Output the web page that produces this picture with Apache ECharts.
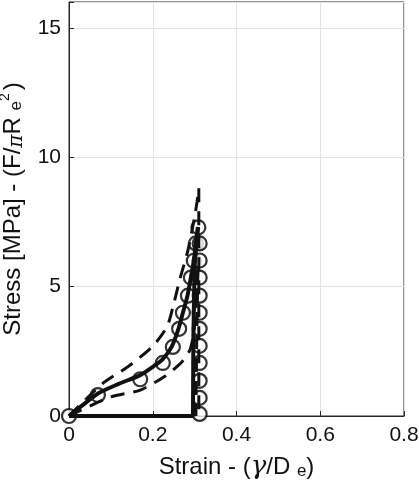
<!DOCTYPE html>
<html>
<head>
<meta charset="utf-8">
<script src="https://cdn.jsdelivr.net/npm/echarts@6/dist/echarts.min.js"></script>
<style>
  html, body { margin: 0; padding: 0; background: #fff; }
  #chart { width: 419px; height: 488px; }
</style>
</head>
<body>
<div id="chart"></div>
<script>
// mean curve: loading branch
const meanLoadStrain = [0, 0.035, 0.07, 0.12, 0.17, 0.2, 0.224, 0.245, 0.26, 0.272, 0.283, 0.291, 0.298, 0.303, 0.308];
const meanLoadStress = [0, 0.45, 0.88, 1.25, 1.58, 1.9, 2.2, 2.67, 3.3, 3.99, 4.65, 5.35, 6.0, 6.67, 7.3];
// mean curve: unloading branch and return along zero stress
const meanUnloadStrain = [0.308, 0.3, 0.297, 0.296, 0.2, 0.1, 0];
const meanUnloadStress = [7.3, 5.8, 3.0, 0, 0, 0, 0];

// upper bound (dashed)
const upperStrain = [0, 0.08, 0.14, 0.2, 0.234, 0.248, 0.265, 0.284, 0.3, 0.306, 0.31];
const upperStress = [0, 1.25, 1.9, 2.7, 3.45, 4.2, 5.3, 6.4, 7.7, 8.3, 8.8];
const upperDownStrain = [0.31, 0.31, 0.31];
const upperDownStress = [8.8, 4.0, 0];

// lower bound (dashed)
const lowerStrain = [0, 0.1, 0.17, 0.23, 0.27, 0.29, 0.3, 0.305, 0.308];
const lowerStress = [0, 0.74, 1.0, 1.55, 2.1, 2.6, 3.5, 4.6, 5.8];
const lowerDownStrain = [0.308, 0.305, 0.303];
const lowerDownStress = [5.8, 3.0, 0];

// circle markers
const markStrain = [0, 0.069, 0.17, 0.224, 0.248, 0.263, 0.272, 0.284, 0.291, 0.298, 0.303, 0.309,
                    0.312, 0.312, 0.312, 0.312, 0.312, 0.312, 0.312, 0.312, 0.312, 0.312, 0.312];
const markStress = [0, 0.81, 1.42, 2.05, 2.67, 3.37, 3.99, 4.65, 5.35, 6.0, 6.67, 7.29,
                    6.67, 6.01, 5.35, 4.65, 3.99, 3.37, 2.71, 2.05, 1.36, 0.70, 0.08];

const xTicks = [0, 0.2, 0.4, 0.6, 0.8];
const yTicks = [0, 5, 10, 15];

const zip = (a, b) => a.map((v, i) => [v, b[i]]);
const ink = '#111';
const font = 'Liberation Sans, Arial, sans-serif';
const dashed = { color: ink, width: 3, type: [14, 9] };

const myChart = echarts.init(document.getElementById('chart'));
myChart.setOption({
    animation: false,
    grid: {
        left: 69, right: 15, top: 2, bottom: 72,
        outerBoundsMode: 'none',
        containLabel: false,
        show: true,
        borderColor: '#262626',
        borderWidth: 1
    },
    xAxis: {
        type: 'value',
        min: 0, max: 0.8, interval: 0.2,
        name: '{n|Strain - (}{g|γ}{n|/D }{s|e}{n|)}',
        nameLocation: 'middle',
        nameGap: 38,
        nameTextStyle: {
            rich: {
                n: { fontSize: 24, color: ink, fontFamily: font },
                g: { fontSize: 26, color: ink, fontFamily: 'DejaVu Serif', fontStyle: 'italic' },
                s: { fontSize: 17, color: ink, fontFamily: font, padding: [8, 0, 0, 0] }
            }
        },
        axisLine: { lineStyle: { color: '#262626' } },
        axisTick: { inside: true, length: 5, lineStyle: { color: '#262626' } },
        axisLabel: {
            fontSize: 21, color: ink, fontFamily: font, margin: 9,
            formatter: v => xTicks.includes(Math.round(v * 10) / 10) ? String(Math.round(v * 10) / 10) : ''
        },
        splitLine: { lineStyle: { color: '#e3e3e3' } }
    },
    yAxis: {
        type: 'value',
        min: 0, max: 16, interval: 5,
        name: '{n|Stress [MPa] - (F/}{p|π}{n|R }{s|e}{u|2}{n|)}',
        nameLocation: 'middle',
        nameGap: 36,
        nameTextStyle: {
            rich: {
                n: { fontSize: 24, color: ink, fontFamily: font },
                p: { fontSize: 20, color: ink, fontFamily: 'DejaVu Serif', fontStyle: 'italic', padding: [7, 0, 0, 0] },
                s: { fontSize: 17, color: ink, fontFamily: font, padding: [6, 0, 0, 0] },
                u: { fontSize: 14, color: ink, fontFamily: font, padding: [0, 3, 16, 0] }
            }
        },
        axisLine: { show: true, lineStyle: { color: '#262626' } },
        axisTick: { show: true, inside: true, length: 5, lineStyle: { color: '#262626' } },
        axisLabel: {
            fontSize: 21, color: ink, fontFamily: font, margin: 8,
            formatter: v => yTicks.includes(v) ? String(v) : ''
        },
        splitLine: { lineStyle: { color: '#e3e3e3' } }
    },
    series: [
        { type: 'line', data: zip(upperStrain, upperStress), showSymbol: false, smooth: 0.25, lineStyle: dashed },
        { type: 'line', data: zip(upperDownStrain, upperDownStress), showSymbol: false, lineStyle: dashed },
        { type: 'line', data: zip(lowerStrain, lowerStress), showSymbol: false, smooth: 0.25, lineStyle: dashed },
        { type: 'line', data: zip(lowerDownStrain, lowerDownStress), showSymbol: false, lineStyle: dashed },
        { type: 'line', data: zip(meanLoadStrain, meanLoadStress), showSymbol: false, smooth: 0.25,
          lineStyle: { color: ink, width: 4 } },
        { type: 'line', data: zip(meanUnloadStrain, meanUnloadStress), showSymbol: false,
          lineStyle: { color: ink, width: 4 } },
        {
            type: 'scatter',
            data: zip(markStrain, markStress),
            symbol: 'circle',
            symbolSize: 14,
            itemStyle: { color: '#fff', borderColor: '#000', borderWidth: 2.2 }
        }
    ]
});
</script>
</body>
</html>
